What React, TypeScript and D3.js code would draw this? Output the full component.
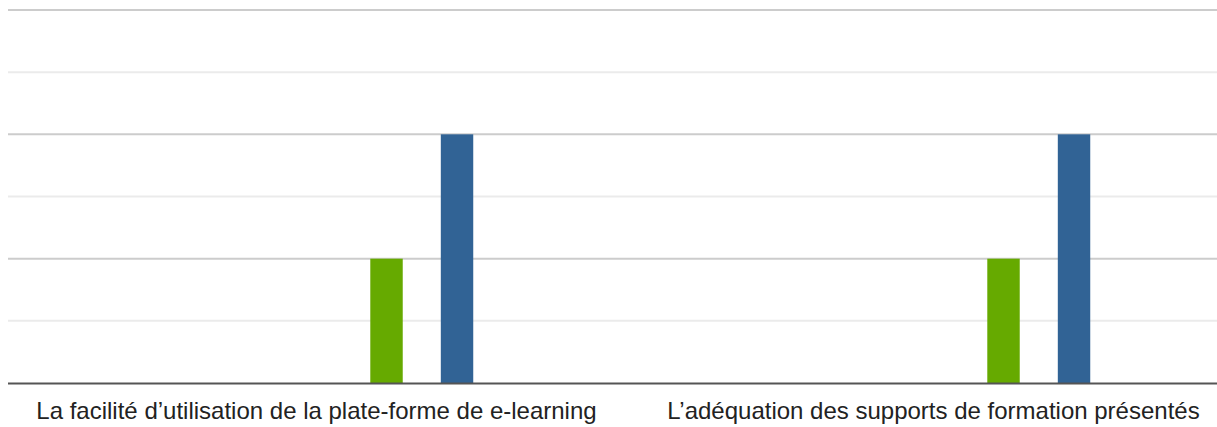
import React from "react";
import * as d3 from "d3";

const categories = [
  "La facilité d’utilisation de la plate-forme de e-learning",
  "L’adéquation des supports de formation présentés",
];
const seriesNames = ["0", "1", "2", "3", "4", "5", "6", "7", "8", "9", "10"];
const facilityValues = [0, 0, 0, 0, 0, 0, 0, 1, 0, 2, 0];
const supportsValues = [0, 0, 0, 0, 0, 0, 0, 1, 0, 2, 0];
const seriesColors = [
  "#3366cc", "#dc3912", "#ff9900", "#109618", "#990099", "#0099c6",
  "#dd4477", "#66aa00", "#b82e2e", "#316395", "#994499",
];
const majorTicks = [1, 2, 3];
const minorTicks = [0.5, 1.5, 2.5];

const W = 1217;
const H = 427;

export default function App() {
  const left = 8;
  const top = 10;
  const bottom = 383;
  const x0 = d3.scaleBand<string>().domain(categories).range([left, left + 1234]);
  const x1 = d3
    .scaleBand<string>()
    .domain(seriesNames)
    .range([-193, 192])
    .paddingInner(0.08);
  const y = d3.scaleLinear().domain([0, 3]).range([bottom, top]);
  const valuesByCat = [facilityValues, supportsValues];

  return (
    <svg
      width={W}
      height={H}
      style={{ position: "absolute", left: 0, top: 0, background: "#fff" }}
      fontFamily="'Liberation Sans', Arial, sans-serif"
    >
      {minorTicks.map((t) => (
        <line key={"mn" + t} x1={left} x2={W} y1={y(t)} y2={y(t)} stroke="#ebebeb" strokeWidth={2} />
      ))}
      {majorTicks.map((t) => (
        <line key={"mj" + t} x1={left} x2={W} y1={y(t)} y2={y(t)} stroke="#cccccc" strokeWidth={2} />
      ))}
      {categories.map((c, ci) => {
        const cx = (x0(c) as number) + x0.bandwidth() / 2;
        return (
          <g key={c}>
            {seriesNames.map((s, si) => {
              const v = valuesByCat[ci][si];
              const bx = cx + (x1(s) as number);
              return (
                <rect
                  key={s}
                  x={bx}
                  y={y(v)}
                  width={x1.bandwidth()}
                  height={bottom - y(v)}
                  fill={seriesColors[si]}
                />
              );
            })}
            <text x={cx} y={419} textAnchor="middle" fontSize={24} fill="#222">
              {c}
            </text>
          </g>
        );
      })}
      <line x1={left} x2={W} y1={bottom + 0.5} y2={bottom + 0.5} stroke="#555" strokeWidth={2} />
    </svg>
  );
}
